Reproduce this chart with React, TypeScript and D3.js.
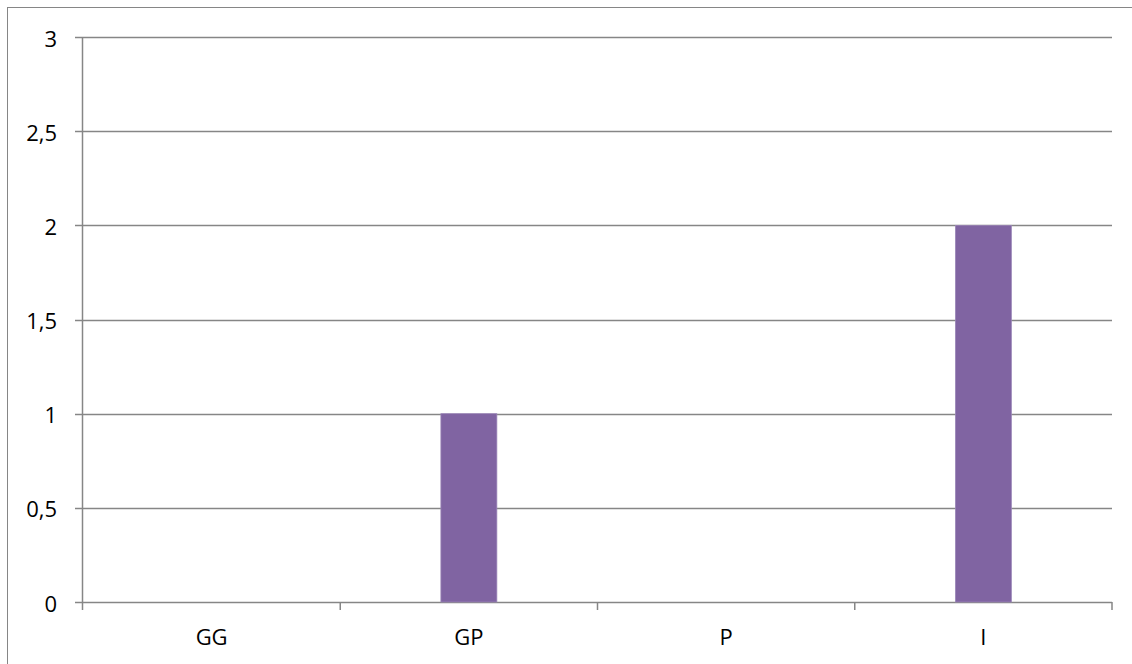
import React from "react";
import * as d3 from "d3";

const categories = ["GG", "GP", "P", "I"];
const values = [0, 1, 0, 2];
const yTicks = [0, 0.5, 1, 1.5, 2, 2.5, 3];

const W = 1132;
const H = 664;
const left = 83;
const right = 1112;
const top = 37;
const bottom = 602;

export default function App() {
  const x = d3.scaleBand<string>().domain(categories).range([left, right]).paddingInner(0).paddingOuter(0);
  const y = d3.scaleLinear().domain([0, 3]).range([bottom, top]);
  const barW = 56;
  const fmt = (v: number) => String(v).replace(".", ",");
  const grid = "#868686";
  const font = "'Open Sans', sans-serif";

  return (
    <svg width={W} height={H} style={{ position: "absolute", left: 0, top: 0 }}>
      <rect x={0} y={0} width={W} height={H} fill="#fff" />
      <rect x={7.5} y={7.5} width={W + 10} height={H + 10} fill="none" stroke="#868686" strokeWidth={1} />
      {yTicks.map((t) => (
        <g key={t}>
          <line x1={75} x2={right} y1={Math.round(y(t)) + 0.5} y2={Math.round(y(t)) + 0.5} stroke={grid} strokeWidth={1.5} />
          <text x={57} y={y(t) + 0.5} textAnchor="end" dominantBaseline="central" fontFamily={font} fontSize={22} fill="#000">
            {fmt(t)}
          </text>
        </g>
      ))}
      <line x1={left - 0.5} x2={left - 0.5} y1={top} y2={bottom + 8} stroke={grid} strokeWidth={1.5} />
      {categories.map((c) => (
        <line key={c} x1={(x(c) as number) + x.bandwidth()} x2={(x(c) as number) + x.bandwidth()} y1={bottom} y2={bottom + 8} stroke={grid} strokeWidth={1.5} />
      ))}
      {categories.map((c, i) =>
        values[i] > 0 ? (
          <rect
            key={c}
            x={(x(c) as number) + x.bandwidth() / 2 - barW / 2}
            y={y(values[i])}
            width={barW}
            height={bottom - y(values[i])}
            fill="#8064A2"
            stroke="#9b86b8"
            strokeWidth={0.75}
          />
        ) : null
      )}
      {categories.map((c) => (
        <text key={c} x={(x(c) as number) + x.bandwidth() / 2} y={645} textAnchor="middle" fontFamily={font} fontSize={22} fill="#000">
          {c}
        </text>
      ))}
    </svg>
  );
}
